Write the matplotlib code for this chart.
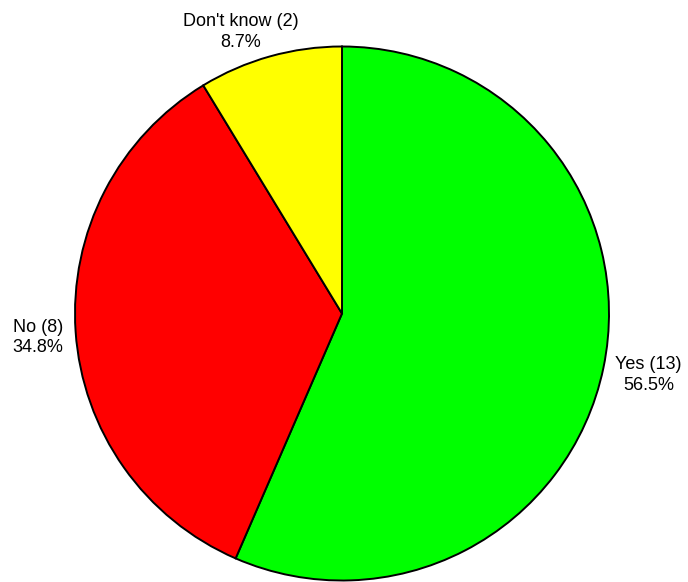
import numpy as np
import matplotlib
matplotlib.use("Agg")
import matplotlib.pyplot as plt

# survey answers
labels = ["Yes", "No", "Don't know"]
counts = [13, 8, 2]
colors = ["#00ff00", "#ff0000", "#ffff00"]

W, H, DPI = 688, 582, 100
cx, cy, rad = 342, 313.5, 267  # pie centre / radius in pixels

plt.rcParams["font.family"] = ["Liberation Sans", "DejaVu Sans"]

fig = plt.figure(figsize=(W / DPI, H / DPI), dpi=DPI)
ax = fig.add_axes([0, 0, 1, 1])

wedges, _ = ax.pie(counts, colors=colors, startangle=90, counterclock=False,
                   radius=1.0, wedgeprops=dict(edgecolor="black", linewidth=1.4))

ax.set_xlim(-cx / rad, (W - cx) / rad)
ax.set_ylim(-(H - cy) / rad, cy / rad)
ax.set_aspect("equal")
ax.axis("off")

total = sum(counts)
for w, lab, n in zip(wedges, labels, counts):
    ang = np.deg2rad((w.theta1 + w.theta2) / 2)
    x, y = np.cos(ang), np.sin(ang)
    txt = f"{lab} ({n})\n{100 * n / total:.1f}%"
    if y > 0.9:
        ax.annotate(txt, (x * 1.02, y * 1.02), xytext=(-28, 0),
                    textcoords="offset pixels", ha="center", va="bottom",
                    multialignment="center", fontsize=13, linespacing=1.3)
    else:
        ax.annotate(txt, (x * 1.045, y * 1.045), xytext=(0, -5),
                    textcoords="offset pixels", ha="left" if x > 0 else "right",
                    va="center", multialignment="center", fontsize=13,
                    linespacing=1.3)

fig.savefig("out.png", dpi=DPI)
